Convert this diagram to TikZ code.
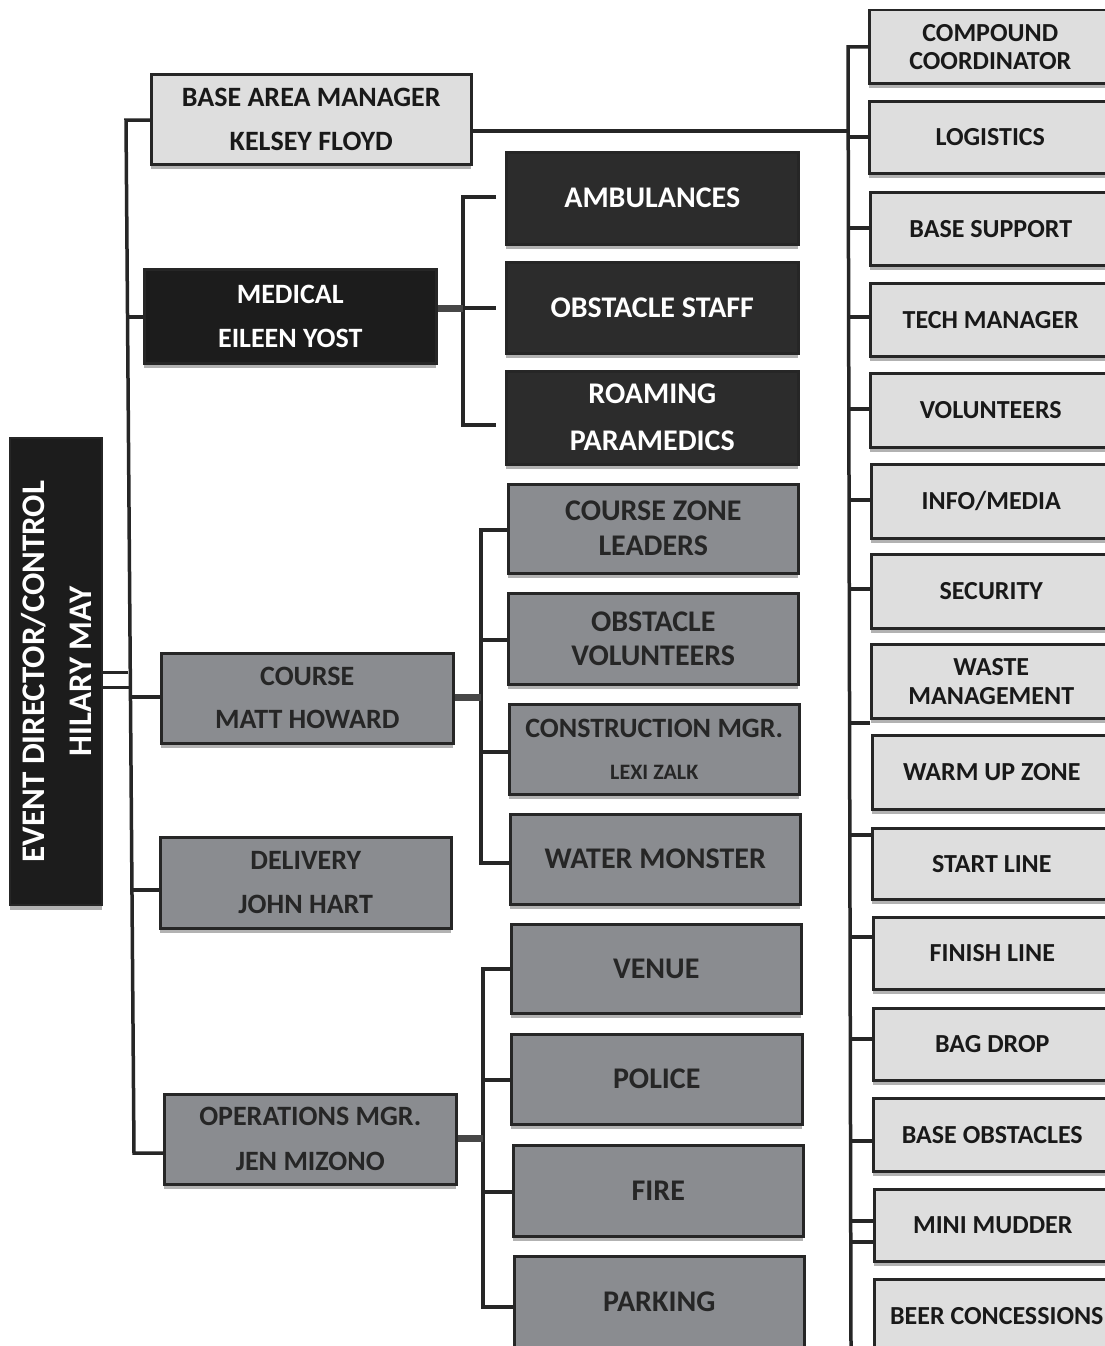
\documentclass[tikz,border=0pt]{standalone}
\usepackage{fontspec}
\setmainfont{Carlito}
\usetikzlibrary{shadows}
\definecolor{lightb}{HTML}{DEDEDE}
\definecolor{midb}{HTML}{8A8C90}
\definecolor{darkb}{HTML}{2C2C2C}
\definecolor{blk}{HTML}{1C1C1C}
\definecolor{ln}{HTML}{262626}
\newcommand\myfs[2]{\fontsize{#1}{#2}\selectfont}
\newcommand\mybox[7]{\node[#1, minimum width={(#5)-(#3)}, minimum height={(#6)-(#4)}, anchor=north west] (#2) at (#3,#4) {#7};}
\tikzset{
  basebox/.style={draw=ln, line width=2.5pt, inner sep=0pt, align=center,
    drop shadow={shadow xshift=0pt, shadow yshift=-5pt, fill=black, opacity=0.3}},
  ltbox/.style={basebox, fill=lightb, text=black!90},
  mdbox/.style={basebox, fill=midb, text=black!85},
  dkbox/.style={basebox, fill=darkb, text=white},
  blbox/.style={basebox, fill=blk, text=white},
  conn/.style={draw=ln, line width=3.5pt, line join=miter},
  thk/.style={draw=ln!85, line width=7pt},
  lf/.style={font=\bfseries\myfs{28}{44}},
  mf/.style={font=\bfseries\myfs{30}{44}},
  rf/.style={font=\bfseries\myfs{26}{29}}
}
\begin{document}
\begin{tikzpicture}[x=1pt,y=-1pt]
\useasboundingbox (0,0) rectangle (1105,1346);
\fill[white] (0,0) rectangle (1105,1346);

% director
\node[blbox, rotate=90, minimum width=467, minimum height=92, font=\bfseries\myfs{33}{47}] (ed) at (56,671.5) {EVENT DIRECTOR/CONTROL\\HILARY MAY};

% left column
\mybox{ltbox,lf}{bam}{150}{73}{470}{163}{BASE AREA MANAGER\\KELSEY FLOYD}
\mybox{blbox,lf}{med}{143}{268}{435}{362}{MEDICAL\\EILEEN YOST}
\mybox{mdbox,lf,font=\bfseries\myfs{28}{43}}{crs}{160}{652}{452}{742}{COURSE\\MATT HOWARD}
\mybox{mdbox,lf}{del}{159}{836}{450}{927}{DELIVERY\\JOHN HART}
\mybox{mdbox,lf,font=\bfseries\myfs{28}{45}}{ops}{163}{1093}{455}{1183}{OPERATIONS MGR.\\JEN MIZONO}

% middle column
\mybox{dkbox,mf}{amb}{505}{151}{797}{243}{AMBULANCES}
\mybox{dkbox,mf}{obs}{505}{261}{797}{352}{OBSTACLE STAFF}
\mybox{dkbox,font=\bfseries\myfs{30}{47}}{roam}{505}{370}{797}{463}{ROAMING\\PARAMEDICS}
\mybox{mdbox,font=\bfseries\myfs{30}{35}}{czl}{507}{483}{797}{572}{COURSE ZONE\\LEADERS}
\mybox{mdbox,font=\bfseries\myfs{30}{34}}{ovol}{507}{592}{797}{683}{OBSTACLE\\VOLUNTEERS}
\mybox{mdbox,font=\bfseries\myfs{28}{42}}{con}{508}{703}{798}{793}{CONSTRUCTION MGR.\\{\myfs{22}{22}LEXI ZALK}}
\mybox{mdbox,mf}{wm}{509}{813}{799}{903}{WATER MONSTER}
\mybox{mdbox,mf}{ven}{510}{923}{800}{1012}{VENUE}
\mybox{mdbox,mf}{pol}{510}{1033}{801}{1123}{POLICE}
\mybox{mdbox,mf}{fire}{512}{1144}{802}{1235}{FIRE}
\mybox{mdbox,mf}{park}{513}{1255}{803}{1346}{PARKING}

% right column
\mybox{ltbox,rf,font=\bfseries\myfs{26}{28}}{cc}{868}{9}{1110}{82}{COMPOUND\\COORDINATOR}
\mybox{ltbox,rf}{log}{868}{100}{1110}{172}{LOGISTICS}
\mybox{ltbox,rf}{bs}{869}{191}{1110}{264}{BASE SUPPORT}
\mybox{ltbox,rf}{tm}{869}{282}{1110}{355}{TECH MANAGER}
\mybox{ltbox,rf}{vol}{869}{372}{1110}{446}{VOLUNTEERS}
\mybox{ltbox,rf}{info}{870}{463}{1110}{537}{INFO/MEDIA}
\mybox{ltbox,rf}{sec}{870}{553}{1110}{627}{SECURITY}
\mybox{ltbox,rf}{wst}{870}{643}{1110}{717}{WASTE\\MANAGEMENT}
\mybox{ltbox,rf}{wup}{871}{734}{1110}{808}{WARM UP ZONE}
\mybox{ltbox,rf}{sl}{871}{827}{1110}{898}{START LINE}
\mybox{ltbox,rf}{fl}{872}{916}{1110}{988}{FINISH LINE}
\mybox{ltbox,rf}{bd}{872}{1007}{1110}{1079}{BAG DROP}
\mybox{ltbox,rf}{bo}{872}{1097}{1110}{1170}{BASE OBSTACLES}
\mybox{ltbox,rf}{mm}{873}{1188}{1110}{1260}{MINI MUDDER}
\mybox{ltbox,rf}{beer}{873}{1278}{1118}{1352}{BEER CONCESSIONS}

% trunk from director
\coordinate (tB) at (126,120);
\coordinate (tM) at (127.5,317);
\coordinate (tC) at (130.5,697);
\coordinate (tD) at (132,890);
\coordinate (tO) at (134,1153);
\draw[conn] (tB -| bam.west) -- (tB) -- (tO) -- (tO -| ops.west);
\draw[conn] (tM) -- (tM -| med.west);
\draw[conn] (tC) -- (tC -| crs.west);
\draw[conn] (tD) -- (tD -| del.west);
\coordinate (e1) at (128,672);
\coordinate (e2) at (129,687);
\draw[conn, line width=3pt] (e1 -| ed.south) -- (e1);
\draw[conn, line width=3pt] (e2 -| ed.south) -- (e2);

% medical bracket
\coordinate (mA) at (463,197);
\coordinate (mS) at (463,308);
\coordinate (mR) at (463,425);
\draw[conn, shorten <=9pt, shorten >=9pt] (mA -| amb.west) -- (mA) -- (mR) -- (mR -| roam.west);
\draw[thk] (mS -| med.east) -- (mS);
\draw[conn, shorten >=9pt] (mS) -- (mS -| obs.west);

% course bracket
\coordinate (c1) at (481,530);
\coordinate (c2) at (481,640);
\coordinate (c3) at (481,752);
\coordinate (c4) at (481,863);
\coordinate (cS) at (481,697);
\draw[conn] (c1 -| czl.west) -- (c1) -- (c4) -- (c4 -| wm.west);
\draw[conn] (c2) -- (c2 -| ovol.west);
\draw[conn] (c3) -- (c3 -| con.west);
\draw[thk] (cS -| crs.east) -- (cS);

% operations bracket
\coordinate (o1) at (483,969);
\coordinate (o2) at (483,1080);
\coordinate (o3) at (483,1192);
\coordinate (o4) at (483,1307);
\coordinate (oS) at (483,1138);
\draw[conn] (o1 -| ven.west) -- (o1) -- (o4) -- (o4 -| park.west);
\draw[conn] (o2) -- (o2 -| pol.west);
\draw[conn] (o3) -- (o3 -| fire.west);
\draw[thk] (oS -| ops.east) -- (oS);

% right bracket
\coordinate (rT) at (848,47);
\coordinate (rE) at (851,1346);
\coordinate (rB) at (848,131);
\draw[conn] (rT -| cc.west) -- (rT) -- (rE);
\draw[conn] (rB -| bam.east) -- (rB);
\foreach \yy/\nn in {137/log,228/bs,317/tm,409/vol,500/info,589/sec,723/wst,835/sl,937/fl,1039/bd,1141/bo,1221/mm,1242/mm}{
  \coordinate (rt) at (849,\yy);
  \draw[conn] (rt) -- (rt -| \nn.west);
}
\end{tikzpicture}
\end{document}
